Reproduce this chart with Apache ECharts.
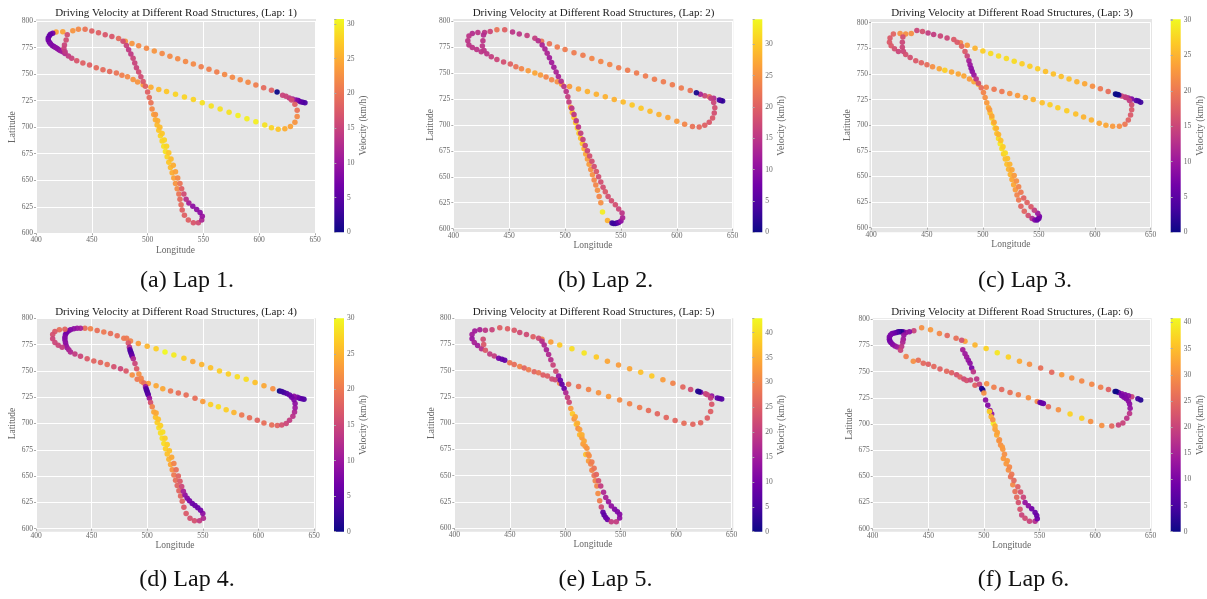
<!DOCTYPE html>
<html>
<head>
<meta charset="utf-8">
<script src="https://cdn.jsdelivr.net/npm/echarts@6/dist/echarts.min.js"></script>
<style>
  html, body { margin: 0; padding: 0; background: #fff; }
  #chart { width: 1207px; height: 599px; }
</style>
</head>
<body>
<div id="chart"></div>
<script>
// one row per GPS sample: [longitude, latitude, velocity km/h]
var lap1 = [
  [641,723,4],[639,723.5,4],[637,724,5],[635,725,6],[633,725.5,8],[630,726.5,12],[627,727.5,14],[624,729,15],[621,730,15],[616,733,0],
  [611,734.8,18],[604,737.2,19],[597,739.7,21],[590,742.2,22],[583,744.6,22],[576,747.1,22],[569,749.6,22],[562,752,21],[555,754.5,21],[548,757,21],
  [541,759.5,22],[534,761.9,22],[527,764.4,22],[520,766.9,22],[513,769.4,22],[506,771.8,23],[499,774.3,22],[492,776.8,22],[486,778.9,23],[480,781,23],
  [474,783.5,19],[468,785.5,17],[462,787,17],[456,789,18],[450,790.5,18],[444,792.3,20],[438,792.3,22],[433,790.8,23],[424,789.8,24],[418,789.6,24],
  [415,788.5,7],[413,787.5,6],[412,786,6],[411,784,6],[411,782,7],[412,780,7],[413,778.5,8],[414.5,777,8],[416,776,8],[417.5,775,9],
  [419,774,9],[420.5,773,9],[422,772,10],[424,771,11],[426,769.5,12],[429,767,14],
  [428,787,16],[427,782,16],[425.5,777.5,15],[425,774,15],[426,771,14],
  [432,765,15],[436.5,762.5,17],[442,760.5,18],[448,758.5,18],[454,756,19],[460,754,19],[466,752.5,19],[472,751,20],[477,749,21],[482,747.5,22],
  [487,745,23],[491,742.5,23],[496,740,24],
  [503,737.5,25],[510,735.5,26],[517,733.5,27],[525,731,28],[533,728.5,28],[541,726,28],[549,723,29],[557,720,29],[565,717,29],[573,714,29],
  [581,711,30],[589,708,30],[597,705,30],[605,702,29],[611,699.5,28],[617,698,27],
  [623,698.5,25],[628,700.5,24],[632,704.5,23],[634,710,22],[634,716,20],[632,721.5,18],[629,725.5,16],
  [478,781,16],[481,777,15],[483,773,14],[485,769,14],[487,765,15],[488.5,760.5,15],[490,756,15],[492,752,16],[494,747.5,16],[496,743,17],
  [498,738.5,18],[500,733,18],[501.5,728,19],[503,723,20],
  [504,717,22],[505.5,712,24],[507,707,25],[508.5,702,26],[510,697,27],[511.5,692,28],[513,687,28],[514.5,682,29],[516,677,29],[517.5,672,28],
  [519,667,27],[520.5,662,26],[522,657,25],[523.5,652,24],[525,647,23],[526.5,642,22],[528,637,20],[529,632,19],[530,627,19],[531,622,18],
  [533,617,18],[536.5,612.5,18],[541,610,17],[545.5,610,16],[548.5,612.5,12],
  [549,616,10],[547,619.5,9],[544,622.5,9],[540.5,625.5,9],[537,628.5,11],[534.5,632,13],[532.5,637,16],[530.5,642,18],[529,647,20],[527,652,22],
  [525,658,24],[523,664,25],[521,670,26],[519,676,27],[517,682,28],[515,688,28],[513,694,27],[511,700,26],[509,706,25],[507,712,23]
];
var lap2 = [
  [641,723,3],[639.5,723.5,2],[638,724,4],[633,725.5,14],[629,727,21],[625,728,17],[621,729.5,13],[617.5,731,1],
  [612,733,22],[604,735.5,23],[596,738.5,23],[588,741.5,23],[580,744,23],[572,747,23],[564,750,23],[556,752.5,23],[548,755,23],[540,758,24],
  [532,761,24],[524,764,24],[516,767,23],[508,769.5,23],[500,772.5,23],[493,775,23],[486,778,22],[479,780.5,22],
  [473,783.5,16],[466,786,16],[459,787.5,15],[453,789.5,15],[446,791.5,20],[439,791.5,22],[433,790,17],[428,789,15],[422,789,15],[417,788,14],
  [414,785.5,15],[413,781,15],[414,777,15],[417,774.5,15],[421,772.5,15],[425,770.5,15],
  [427,786.5,14],[426.5,781,15],[426,776,15],[427.5,771.5,15],[430,768.5,15],
  [434,765.5,16],[439,763,17],[445,760.5,18],[451,758.5,20],[456,756,22],[461,754,24],[467,752,26],[473,750,27],[478,748,26],[483,746,24],
  [488,743.5,24],[493,741.5,25],[497,739,26],
  [504,737,26],[512,734.5,27],[520,732,28],[528,729.5,28],[536,727,28],[544,724.5,28],[552,722,29],[560,719,30],[568,716,30],[576,713,29],
  [584,710,28],[592,707,27],[600,703.5,26],[607,700.5,24],[614,698.5,22],[620,698,21],
  [625,699.5,20],[629,702.5,19],[632,706.5,19],[633.5,711.5,18],[634,716.5,18],[633,721.5,17],[630.5,725.5,16],
  [476,781,14],[479.5,777,13],[482,773,13],[484,769,13],[486,764.5,12],[488,760,12],[490,755.5,12],[492,751,13],[494,746.5,13],[496.5,742,14],
  [499,737,15],[501,732,15],[502.5,727,16],[503.5,722,16],
  [505,717,27],[506.5,712,29],[508,707,30],[509.5,702,30],[511,697,31],[512.5,692,30],[514,687,29],[515.5,682,30],[517,677,28],[518.5,672,27],
  [520,667,26],[521.5,662,26],[523,657,25],[524.5,652,25],[526,647,24],[527.5,642,24],[529,637,25],[530.5,631,24],[532,625,25],[533.5,616,33],
  [538,608,28],[542,605.5,3],[543.5,605,3],[545,605,3],[546.5,605.5,4],[548,606,6],[550,607.5,10],[551.5,610.5,13],[551,615,15],
  [548,619,17],[545,623,18],[541.5,627,18],[538.5,631,18],[536,635.5,19],[534,640,18],[532,645,18],[530,650,18],[528,655,19],[526,660,18],
  [524,665,18],[522,670,18],[520,675,17],[518,680,17],[516,686,16],[514,692,16],[512,698,15],[510,704,15],[508,710,15],[506,716,15]
];
var lap3 = [
  [641,722.5,3],[639,723.5,3],[637,724,4],[633,725.5,8],[630,726.5,11],[627,727.5,14],[624,728.5,15],[621.5,729.5,2],[620.5,730,0],[619.5,730,0],[618.5,730.5,0],
  [612,733,19],[605,735.5,20],[598,738,22],[591,740.5,24],[584,742.5,25],[577,745,26],[570,747.5,26],[563,750,26],[556,752.5,26],[549,755,27],
  [542,757.5,27],[535,760,27],[528,762.5,28],[521,765,28],[514,767.5,28],[507,770,28],[500,772.5,27],[493,775,25],[486,778,23],[480,780.5,21],
  [474,783.5,17],[468,785,15],[462,787,15],[456,788.5,14],[451,790,14],[446,791.5,16],[441,792.5,15],[436,789.5,22],[431,789,22],[426,789.5,22],
  [420,789,18],[417,785,17],[416.5,781,17],[418,777.5,17],[421,774.5,16],[424.5,772,15],
  [428.5,786,16],[428,781,15],[428,776,15],[429,772,15],[431,769,16],
  [435,766,16],[440,763,17],[445,761,18],[450,759,19],[455,757,22],[461,755,24],[466,753.5,27],[472,752,24],[478,750,24],[483,748,24],
  [488,745,23],[492,742.5,24],[496,740,25],
  [503,737,21],[510,735,20],[517,733,20],[524,731,22],[531,729,23],[538,727,24],[545,725,25],[553,722,26],[560,720,27],[567,717,27],
  [575,714,27],[583,711,26],[590,708,25],[597,705,25],[604,702,24],[610,700,24],[616,699,23],[622,699,22],
  [627,701,20],[630,705,18],[632,710,17],[633,715,17],[633,720,16],[631,724,14],[628,727,14],
  [477,781,17],[481,777,18],[484,772,17],[486,767.5,15],[487.5,763,11],[488.5,759,10],[489.5,755.5,9],[490.5,752.5,9],[492,749,10],[494,745,13],
  [496,741,16],[498.5,736.5,19],[500.5,732,21],[502,727,22],
  [503.5,722,23],[505,717,24],[506.5,712,26],[508,707,27],[509.5,702,28],[511,697,27],[512.5,692,26],[514,687,28],[515.5,682,29],[517,677,28],
  [518.5,672,27],[520,667,26],[521.5,662,26],[523,657,25],[524.5,652,25],[526,647,24],[527.5,642,24],[529,637,23],[530.5,632,21],[532,627,20],
  [534,621,18],[537,616,18],[540.5,612,16],[544,609,12],[546.5,607.5,8],[548.5,607.5,6],[550,609,6],[550.5,611,7],
  [549,614,10],[546,617,14],[543,620.5,17],[539.5,624.5,18],[536.5,629,18],[534,634.5,20],[532,640,21],[530,645.5,22],[528,651,23],[526,656.5,24],
  [524,662,25],[522,667.5,26],[520,673,28],[518,679,27],[516,685,26],[514,691,25],[512,697,25],[510,703,24],[508,709,24],[506,715,23]
];
var lap4 = [
  [641,723,4],[639,723.5,5],[637,724,5],[635,725,7],[632,726,9],[619,731,0],
  [613,733,22],[605,736,24],[597,739,26],[589,742,28],[581,744.5,28],[573,747,27],[565,750,27],[557,753,26],[549,756,25],[541,759,24],
  [533,762,27],[524,765,29],[516,768,30],[508,771,27],[500,773.5,25],[492,776,23],[485,778.5,21],[479,781,20],
  [473,783.5,19],[467,785.5,19],[461,787,20],[455,788.5,19],[449,790,21],[444,790.5,19],
  [440,790.5,11],[437,790.5,10],[434,790,9],[431,789,8],[429,788,8],[427.5,786.5,7],[426.5,784.5,7],[426,782,8],[426,779.5,8],[426.5,777,9],
  [427,774.5,9],[428,772,10],[429.5,770,11],
  [426,789.5,18],[421,789,19],[417,787.5,17],[415,784.5,16],[415,780.5,15],[417,777,15],[420,774.5,15],[423.5,772.5,14],
  [431,768,12],[435,766,14],[440,764,15],[446,761.5,17],[452,759.5,18],[458,758,18],[464,756,19],[470,754,16],[476,752,15],[481,750,17],
  [486.5,746,22],[491,742,20],[495,740,21],
  [501,738,23],[508,736,24],[514,733,24],[521,731,20],[528,729,19],[535,727,19],[543,724,19],[550,721,23],[557,718,27],[564,716,28],
  [571,713,27],[578,710.5,25],[585,708,20],[592,705.5,19],[599,703,18],[605,700.5,19],[612,698.5,19],[617,698,18],[621,698.5,16],[625,700,15],
  [628,703,14],[631,707,13],[632.5,711,12],[633,715,10],[633,719,9],[632,722.5,8],[630,725,7],[628,727,6],[625.5,728.5,5],[623,729.5,4],[621,730.5,3],
  [481.5,781,20],[483,776.5,17],[484,772.5,12],[484.5,770,5],[485,768.5,4],[485.5,767,4],[486,765.5,5],[486.5,764,6],[487.5,761.5,12],[489,757,15],
  [490.5,752,17],[492.5,747,22],[494.5,743,21],[497,738.5,19],[498.5,735,10],[499,733,5],[499.5,731.5,4],[500,730,4],[500.5,728.5,4],[501,727,5],
  [502,724,10],[503,720,16],
  [504.5,716,21],[506,711,24],[507.5,706,26],[509,701,27],[510.5,696,28],[512,691,28],[513.5,686,28],[515,681,28],[516.5,676,27],[518,671,26],
  [519.5,666,25],[521,661,24],[522.5,656,22],[524,651,20],[525.5,646,19],[527,641,18],[528.5,636,18],[530,631,18],[531.5,626,18],[533,620.5,17],
  [535,614.5,17],[538.5,610,16],[542.5,607.5,16],[547,607.5,14],[550.5,610,12],
  [550,614.5,9],[548,617.5,7],[545.5,620,6],[543,622,6],[540.5,624,6],[538,626.5,7],[536,629,8],[534,632,9],[532.5,635.5,11],[531,640,15],
  [529.5,645,17],[528,650,18],[526,656,19],[524,662,21],[522,668,24],[520,674,26],[518,680,27],[516,686,27],[514,692,28],[512,698,27],
  [510,704,26],[508,710,24]
];
var lap5 = [
  [641,723,6],[639,723.5,7],[637,724,7],[632,726,14],[626.5,728,21],[622,729.5,10],[620.5,730,0],[619.5,730.5,2],
  [613,732,22],[606,734.5,26],[597,738,30],[588,741.5,33],[578,745,38],[568,748.5,37],[558,752,34],[548,755.5,33],[538,759,34],[528,763,38],
  [517,767,41],[506,771,40],[495,774.5,38],[487,777.5,33],[479,780,30],
  [471,782.5,25],[465,784.5,22],[459,786.5,22],[454,788.5,24],[448,790,25],[441,791,25],[434,789,21],[428,788.5,19],[423,789,16],[418.5,788,15],
  [416,784.5,15],[416,780.5,14],[418,777,16],[421,774,15],[424.5,771,18],
  [426,780,22],[426.5,775,24],[428,769.5,24],
  [432,766,20],[436,764,20],[440,762,10],[443,761,8],[445.5,760,8],[450,757.5,28],[454,756,27],[459,754,30],[463,752.5,26],[467,751,29],
  [472,749,26],[476,748,28],[480,746,25],[484,745,25],[488,742,22],[491,741.5,22],[495,738,30],
  [503,737,26],[512,735,28],[521,732,30],[530,729,32],[539,725.5,33],[549,722,31],[558,718.5,30],[567,715,29],[575,712,27],[583,709,26],
  [591,705.5,26],[599,702.5,26],[607,700,27],[615,699,26],[622,700.5,26],
  [628,705,25],[631,711,25],[632,718,24],[631,724,20],[628,727,21],
  [476,781,22],[479,778,18],[481,774.5,17],[483,770,16],[485,765.5,17],[487,760.5,18],[489,755.5,21],[491.5,749.5,22],[494,745,14],[495.5,741,9],
  [497,737,8],[499,733,9],[500.5,729,17],[502,724.5,20],[503.5,720,22],
  [505,714,33],[506.5,709,38],[508,704,32],[510,699,37],[511.5,695,31],[513,689,36],[515,686,33],[516,680,33],[518,678,33],[518.5,670,37],
  [520.5,670.5,32],[521,664,33],[523,661,30],[524,655,30],[526,650,28],[527,645,30],[528.5,640,30],[529.5,633,31],[531,626,29],[532.5,620,22],
  [534,615,8],[535,612.5,7],[536.5,610,8],[538,608,9],[541.5,606,20],[546,606,20],
  [549,609.5,13],[549,613,12],[547,615.5,11],[544.5,618,11],[541.5,621,13],[539,625,14],[536.5,629,16],[534.5,634,17],[532,640,20],[530,645,23],
  [528,651,26],[526,657,28],[524,663,29],[521.5,669,31],[519.5,676,32],[517,683,34],[515,689,35],[513,694,33],[511,700,35],[509,706,34]
];
var lap6 = [
  [641,723,2],[638.5,724,4],[633,726,20],[630,727,12],[627,728,11],[624,729,12],[621,730,8],[619,731,1],[618,731,0],
  [612,733,24],[605,735,28],[597,738,29],[588,741,29],[579,744,30],[570,747,31],[561,749.5,25],[551,753.5,26],[541,757,30],[532,760,33],
  [522,764,37],[512,768,39],[502,772,37],[492,775.5,34],[483,779,32],[475,782,26],
  [467,784.5,25],[460,786.5,29],[452,790,31],[444,792,30],[437,789,20],
  [433,788,12],[430,787.5,13],[427.5,788,11],[426,788,3],[424.5,788,2],[423,788,4],[421.5,787.5,6],[419.5,787,8],[417.5,786.5,9],[416,785,10],
  [415,783,10],[415,781,10],[415.5,779,9],[416.5,777.5,10],[418,776,11],[420,774.5,12],[422,773.5,14],
  [428,785,13],[427.5,781,14],[427,778,16],[426,774,18],[425,770.5,20],
  [430,764.5,28],[436.5,760,30],[441,761,26],[445.5,758,25],[450,757,24],[455,755,25],[460.5,752.5,24],[466.5,750.5,25],[471,749,24],[475.5,747,22],
  [478.5,745,24],[482,743,21],[484.5,741.5,22],[488,742,20],[492,737,24],
  [502.5,738.5,30],[509,735,28],[516,733,25],[523.5,730,26],[531,728,28],[540,725,30],[548,721.5,29],[550.5,720.5,8],[552,720,7],[553.5,719.5,8],
  [558,716.5,25],[567,713.5,30],[577.5,709.5,37],[588,705.5,37],[596,702.5,30],[606,698.5,30],[615,698,25],[621,699,20],[625,701,20],
  [628.5,705.5,18],[631,710,18],[631.5,715,13],[631,719,12],[630,722,12],[628,724,11],[626,725.5,11],[624,727,10],
  [480,780,22],[481,771,15],[483,767,14],[484.5,764,14],[486,761,13],[487.5,758,12],[489,753.5,10],[490.5,750,18],[493.5,743,18],[496,738,20],
  [498,734,2],[499,732.5,1],[500,729.5,30],[501.5,723,12],[503.5,718,11],[505.5,713,12],[507,709.5,13],
  [505,712,37],[506.5,707,34],[508.5,700.5,40],[510,695,32],[511.5,689.5,33],[513.5,684,31],[515,680,30],[517,676,31],[517.5,667,31],[520,662,31],
  [522,656,30],[524,649.5,26],[526,642,29],[528,635.5,26],[529.5,630,25],[531,625,22],[532.5,618.5,22],[534,613,20],[537,610,21],[541,607,20],[546,607,17],
  [548,609.5,9],[547.5,612.5,8],[546,615.5,8],[543,619,9],[540,622,12],[537,625,13],[535.5,630,20],[533,635,22],[530.5,640,24],[527,646,25],
  [525,652,27],[523,659,29],[521,665,31],[518.5,671,30],[516.5,678,31],[514,685,30],[512,692,32],[510,698,33],[508,704,30]
];

var laps = [lap1, lap2, lap3, lap4, lap5, lap6];
var lapNames = ["1", "2", "3", "4", "5", "6"];
var captions = ["(a) Lap 1.", "(b) Lap 2.", "(c) Lap 3.", "(d) Lap 4.", "(e) Lap 5.", "(f) Lap 6."];
var velMax = [30.7, 34, 30.1, 30, 42.9, 40.8];
var lonTicks = [400, 650, 50];
var latTicks = [600, 800, 25];

var plasma = ["#0d0887", "#46039f", "#7201a8", "#9c179e", "#bd3786",
              "#d8576b", "#ed7953", "#fb9f3a", "#fdca26", "#f0f921"];

// pixel layout of every panel: data rect, grey background rect, colour bar, title and caption centre
var panels = [
  { plot: [36, 21, 279, 212.3],      bg: [36, 19, 280, 214.3],      bar: [334.3, 19, 9.7, 213.3],    title: [176, 13.5],  cap: [187, 281] },
  { plot: [453.3, 21, 279.4, 207.7], bg: [453.3, 19, 280, 213],     bar: [752.7, 19.3, 9.6, 213],    title: [593.5, 13.5], cap: [605.5, 281] },
  { plot: [871, 22.7, 279.7, 205],   bg: [869.5, 19, 282.5, 213.3], bar: [1170.7, 19.3, 10, 213],    title: [1012, 13.5], cap: [1025, 281] },
  { plot: [36, 318.3, 278, 210.4],   bg: [36, 318.3, 280, 213.4],   bar: [334, 318.3, 10, 213.4],    title: [176, 312.5], cap: [187, 580] },
  { plot: [454.3, 318.3, 277.4, 209.7], bg: [454.3, 318.3, 279, 213.4], bar: [752.3, 318.3, 10, 213.4], title: [593.5, 312.5], cap: [605.5, 580] },
  { plot: [872.7, 319.3, 278, 209.4], bg: [872.7, 318.3, 279, 213.4], bar: [1170.7, 318.3, 10, 213.4], title: [1012, 312.5], cap: [1023.5, 580] }
];

var serif = "'Liberation Serif', 'Times New Roman', serif";
var labelGrey = "#666";

var chart = echarts.init(document.getElementById("chart"));

var grids = [], xAxes = [], yAxes = [], series = [], visualMaps = [], texts = [];

function rect(r) {
  return { left: r[0], top: r[1], width: r[2], height: r[3] };
}
function hiddenAxis(gi) {
  return { type: "value", gridIndex: gi, show: false, min: 0, max: 1 };
}
function barGradient() {
  var stops = plasma.map(function (c, i) {
    return { offset: 1 - i / (plasma.length - 1), color: c };
  }).reverse();
  return { type: "linear", x: 0, y: 0, x2: 0, y2: 1, colorStops: stops };
}

panels.forEach(function (p, i) {
  var gBg = grids.length;
  grids.push(Object.assign({ show: true, backgroundColor: "#e5e5e5", borderWidth: 0 }, rect(p.bg)));
  xAxes.push(hiddenAxis(gBg));
  yAxes.push(hiddenAxis(gBg));

  var gPlot = grids.length;
  grids.push(Object.assign({ show: false }, rect(p.plot)));
  xAxes.push({
    type: "value", gridIndex: gPlot,
    min: lonTicks[0], max: lonTicks[1], interval: lonTicks[2],
    name: "Longitude", nameLocation: "middle", nameGap: 9,
    nameTextStyle: { fontFamily: serif, fontSize: 9.5, color: labelGrey },
    axisLine: { show: false },
    axisTick: { show: true, length: 2, lineStyle: { color: "#aaa" } },
    axisLabel: { margin: 3, fontFamily: serif, fontSize: 7.5, color: labelGrey },
    splitLine: { show: true, lineStyle: { color: "#fff", width: 1 } }
  });
  yAxes.push({
    type: "value", gridIndex: gPlot,
    min: latTicks[0], max: latTicks[1], interval: latTicks[2],
    name: "Latitude", nameLocation: "middle", nameGap: 16, nameRotate: 90,
    nameTextStyle: { fontFamily: serif, fontSize: 9.5, color: labelGrey },
    axisLine: { show: false },
    axisTick: { show: true, length: 2, lineStyle: { color: "#aaa" } },
    axisLabel: { margin: 3, fontFamily: serif, fontSize: 7.5, color: labelGrey },
    splitLine: { show: true, lineStyle: { color: "#fff", width: 1 } }
  });

  var gBar = grids.length;
  grids.push(Object.assign({ show: true, backgroundColor: barGradient(), borderWidth: 0 }, rect(p.bar)));
  xAxes.push(hiddenAxis(gBar));
  yAxes.push({
    type: "value", gridIndex: gBar, position: "right",
    min: 0, max: velMax[i], interval: 5,
    name: "Velocity (km/h)", nameLocation: "middle", nameGap: 11, nameRotate: 90,
    nameTextStyle: { fontFamily: serif, fontSize: 9.5, color: labelGrey },
    axisLine: { show: false },
    axisTick: { show: true, length: 2, lineStyle: { color: "#aaa" } },
    axisLabel: {
      margin: 3, fontFamily: serif, fontSize: 7.5, color: labelGrey,
      formatter: function (v) { return v % 5 === 0 ? String(v) : ""; }
    },
    splitLine: { show: false }
  });

  series.push({
    type: "scatter",
    xAxisIndex: xAxes.length - 2,
    yAxisIndex: yAxes.length - 2,
    data: laps[i],
    encode: { x: 0, y: 1 },
    symbolSize: 5.5,
    itemStyle: { opacity: 0.95 },
    silent: true
  });
  visualMaps.push({
    type: "continuous", show: false, seriesIndex: i, dimension: 2,
    min: 0, max: velMax[i], inRange: { color: plasma }
  });

  texts.push({
    type: "text", x: p.title[0], y: p.title[1],
    style: {
      text: "Driving Velocity at Different Road Structures, (Lap: " + lapNames[i] + ")",
      font: "11px " + serif, fill: "#222", textAlign: "center", textVerticalAlign: "middle"
    }
  });
  texts.push({
    type: "text", x: p.cap[0], y: p.cap[1],
    style: {
      text: captions[i], font: "24px " + serif, fill: "#111",
      textAlign: "center", textVerticalAlign: "middle"
    }
  });
});

var option = {
  animation: false,
  backgroundColor: "#fff",
  grid: grids,
  xAxis: xAxes,
  yAxis: yAxes,
  visualMap: visualMaps,
  series: series,
  graphic: texts
};
chart.setOption(option);
</script>
</body>
</html>
